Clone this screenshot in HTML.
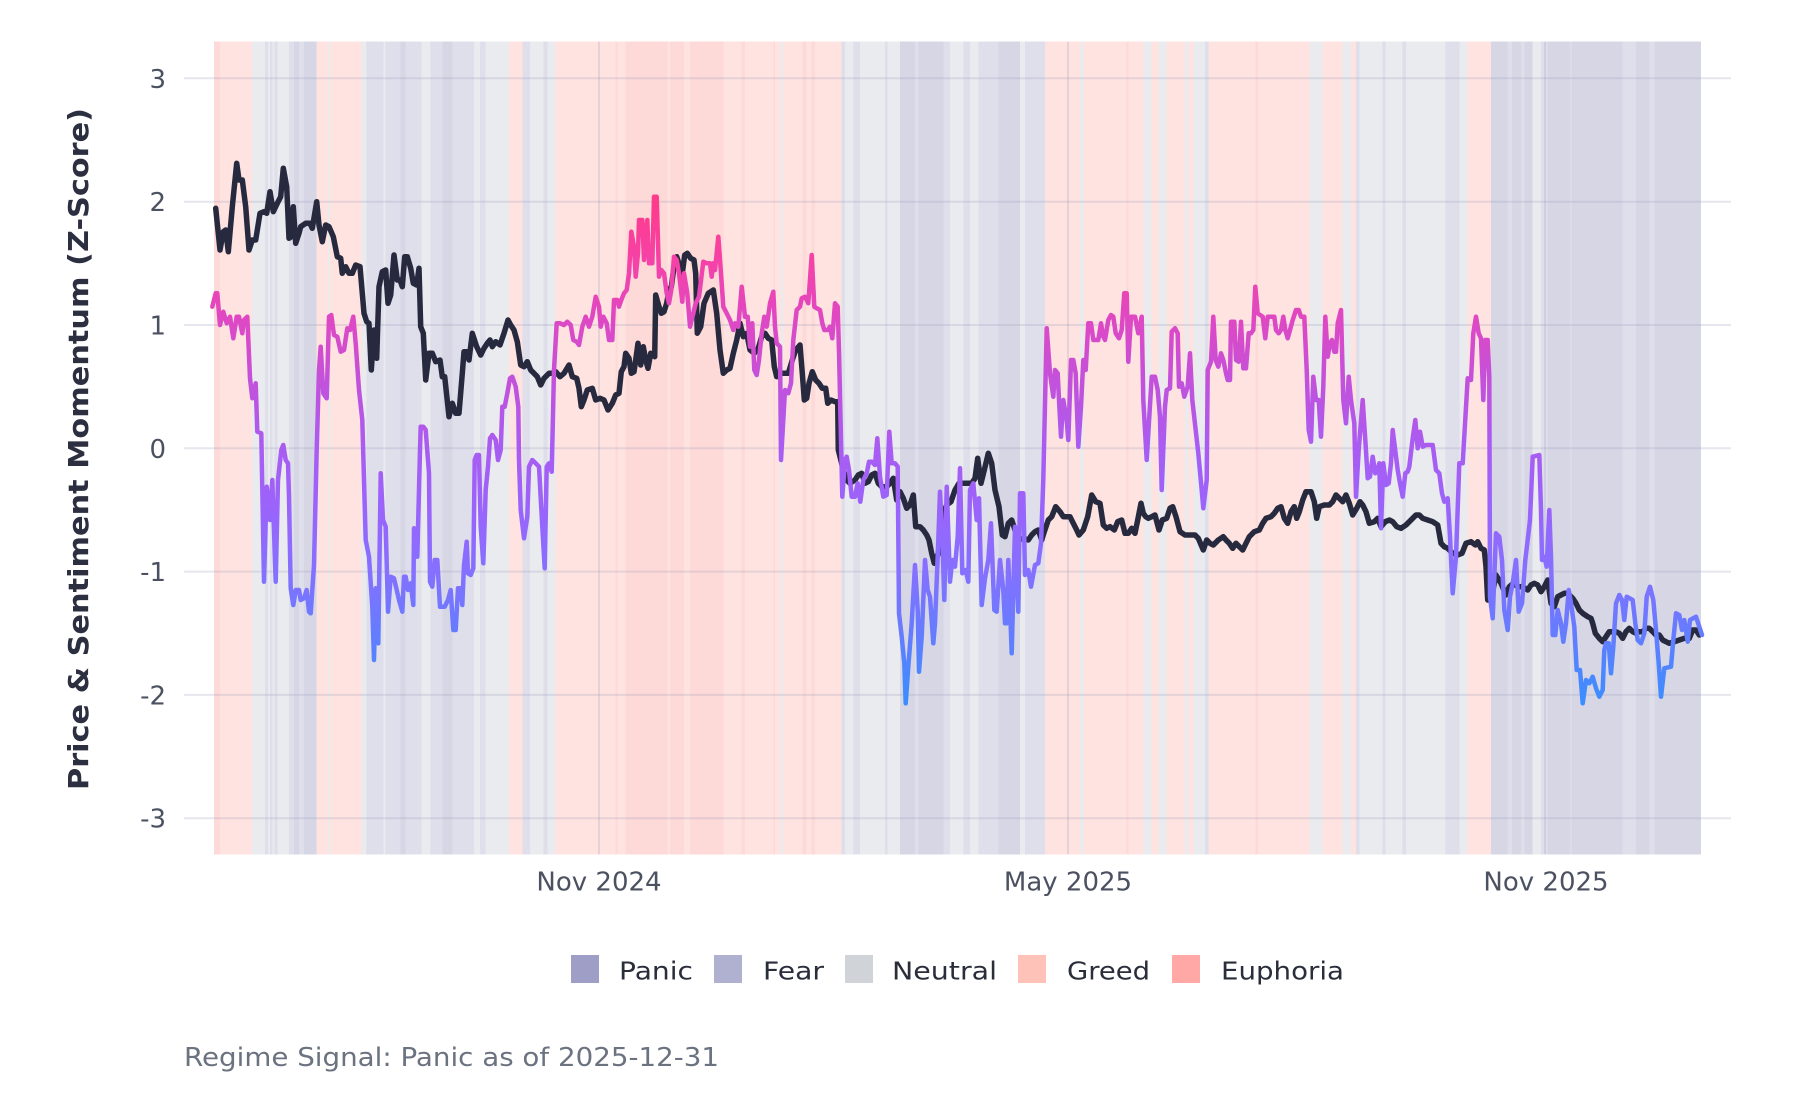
<!DOCTYPE html>
<html>
<head>
<meta charset="utf-8">
<style>
html,body{margin:0;padding:0;background:#fff;}
svg{display:block;}
text{font-family:"DejaVu Sans","Liberation Sans",sans-serif;}
</style>
</head>
<body>
<svg width="1800" height="1100" viewBox="0 0 1800 1100" xmlns="http://www.w3.org/2000/svg">
<defs>
<linearGradient id="sg" gradientUnits="userSpaceOnUse" x1="0" y1="160" x2="0" y2="710">
<stop offset="0" stop-color="#ff3b86"/>
<stop offset="0.075" stop-color="#ff3b8b"/>
<stop offset="0.187" stop-color="#f542a8"/>
<stop offset="0.3" stop-color="#dc49c6"/>
<stop offset="0.412" stop-color="#c052dd"/>
<stop offset="0.524" stop-color="#a95cf2"/>
<stop offset="0.636" stop-color="#9a64fb"/>
<stop offset="0.748" stop-color="#8570ff"/>
<stop offset="0.86" stop-color="#657cff"/>
<stop offset="0.972" stop-color="#3f8cff"/>
<stop offset="1" stop-color="#3a8eff"/>
</linearGradient>
</defs>
<rect width="1800" height="1100" fill="#fff"/>
<g id="bands" shape-rendering="crispEdges">
<rect x="214" y="41.7" width="6" height="812.6" fill="#fdd9d8"/>
<rect x="220" y="41.7" width="32" height="812.6" fill="#fee3e0"/>
<rect x="252" y="41.7" width="13" height="812.6" fill="#eaebee"/>
<rect x="265" y="41.7" width="3" height="812.6" fill="#dfdfeb"/>
<rect x="268" y="41.7" width="2" height="812.6" fill="#eaebee"/>
<rect x="270" y="41.7" width="2.3" height="812.6" fill="#dfdfeb"/>
<rect x="272.3" y="41.7" width="2.4" height="812.6" fill="#eaebee"/>
<rect x="274.7" y="41.7" width="2.6" height="812.6" fill="#dfdfeb"/>
<rect x="277.3" y="41.7" width="11.7" height="812.6" fill="#eaebee"/>
<rect x="289" y="41.7" width="5" height="812.6" fill="#dfdfeb"/>
<rect x="294" y="41.7" width="5" height="812.6" fill="#d6d6e5"/>
<rect x="299" y="41.7" width="5" height="812.6" fill="#dfdfeb"/>
<rect x="304" y="41.7" width="12.7" height="812.6" fill="#d6d6e5"/>
<rect x="316.7" y="41.7" width="11.3" height="812.6" fill="#fee3e0"/>
<rect x="328" y="41.7" width="2" height="812.6" fill="#eaebee"/>
<rect x="330" y="41.7" width="31.3" height="812.6" fill="#fee3e0"/>
<rect x="361.3" y="41.7" width="5.4" height="812.6" fill="#eaebee"/>
<rect x="366.7" y="41.7" width="16.6" height="812.6" fill="#dfdfeb"/>
<rect x="383.3" y="41.7" width="2.4" height="812.6" fill="#eaebee"/>
<rect x="385.7" y="41.7" width="15" height="812.6" fill="#dfdfeb"/>
<rect x="400.7" y="41.7" width="5" height="812.6" fill="#d6d6e5"/>
<rect x="405.7" y="41.7" width="15.6" height="812.6" fill="#dfdfeb"/>
<rect x="421.3" y="41.7" width="9.4" height="812.6" fill="#eaebee"/>
<rect x="430.7" y="41.7" width="11.6" height="812.6" fill="#dfdfeb"/>
<rect x="442.3" y="41.7" width="10" height="812.6" fill="#d6d6e5"/>
<rect x="452.3" y="41.7" width="21.7" height="812.6" fill="#dfdfeb"/>
<rect x="474" y="41.7" width="6" height="812.6" fill="#eaebee"/>
<rect x="480" y="41.7" width="5.7" height="812.6" fill="#dfdfeb"/>
<rect x="485.7" y="41.7" width="23.3" height="812.6" fill="#eaebee"/>
<rect x="509" y="41.7" width="13.3" height="812.6" fill="#fee3e0"/>
<rect x="522.3" y="41.7" width="7.7" height="812.6" fill="#dfdfeb"/>
<rect x="530" y="41.7" width="13.3" height="812.6" fill="#eaebee"/>
<rect x="543.3" y="41.7" width="4" height="812.6" fill="#dfdfeb"/>
<rect x="547.3" y="41.7" width="8.4" height="812.6" fill="#eaebee"/>
<rect x="555.7" y="41.7" width="60" height="812.6" fill="#fee3e0"/>
<rect x="615.7" y="41.7" width="1.6" height="812.6" fill="#fdd9d8"/>
<rect x="617.3" y="41.7" width="8.4" height="812.6" fill="#fee3e0"/>
<rect x="625.7" y="41.7" width="41.6" height="812.6" fill="#fdd9d8"/>
<rect x="667.3" y="41.7" width="2.7" height="812.6" fill="#fee3e0"/>
<rect x="670" y="41.7" width="14" height="812.6" fill="#fdd9d8"/>
<rect x="684" y="41.7" width="6" height="812.6" fill="#fee3e0"/>
<rect x="690" y="41.7" width="33.3" height="812.6" fill="#fdd9d8"/>
<rect x="723.3" y="41.7" width="18.4" height="812.6" fill="#fee3e0"/>
<rect x="741.7" y="41.7" width="3.3" height="812.6" fill="#fdd9d8"/>
<rect x="745" y="41.7" width="28.3" height="812.6" fill="#fee3e0"/>
<rect x="773.3" y="41.7" width="1.7" height="812.6" fill="#fdd9d8"/>
<rect x="775" y="41.7" width="6" height="812.6" fill="#fee3e0"/>
<rect x="781" y="41.7" width="2.3" height="812.6" fill="#eaebee"/>
<rect x="783.3" y="41.7" width="19" height="812.6" fill="#fee3e0"/>
<rect x="802.3" y="41.7" width="4.4" height="812.6" fill="#fdd9d8"/>
<rect x="806.7" y="41.7" width="5" height="812.6" fill="#fee3e0"/>
<rect x="811.7" y="41.7" width="3.3" height="812.6" fill="#fdd9d8"/>
<rect x="815" y="41.7" width="26.7" height="812.6" fill="#fee3e0"/>
<rect x="841.7" y="41.7" width="3.3" height="812.6" fill="#dfdfeb"/>
<rect x="845" y="41.7" width="8.3" height="812.6" fill="#eaebee"/>
<rect x="853.3" y="41.7" width="6.7" height="812.6" fill="#dfdfeb"/>
<rect x="860" y="41.7" width="25" height="812.6" fill="#eaebee"/>
<rect x="885" y="41.7" width="2.7" height="812.6" fill="#dfdfeb"/>
<rect x="887.7" y="41.7" width="12.3" height="812.6" fill="#eaebee"/>
<rect x="900" y="41.7" width="15" height="812.6" fill="#d6d6e5"/>
<rect x="915" y="41.7" width="3.3" height="812.6" fill="#dfdfeb"/>
<rect x="918.3" y="41.7" width="25" height="812.6" fill="#d6d6e5"/>
<rect x="943.3" y="41.7" width="6.7" height="812.6" fill="#dfdfeb"/>
<rect x="950" y="41.7" width="13.3" height="812.6" fill="#eaebee"/>
<rect x="963.3" y="41.7" width="6.7" height="812.6" fill="#dfdfeb"/>
<rect x="970" y="41.7" width="8.3" height="812.6" fill="#eaebee"/>
<rect x="978.3" y="41.7" width="20" height="812.6" fill="#dfdfeb"/>
<rect x="998.3" y="41.7" width="21.7" height="812.6" fill="#d6d6e5"/>
<rect x="1020" y="41.7" width="5" height="812.6" fill="#eaebee"/>
<rect x="1025" y="41.7" width="20" height="812.6" fill="#dfdfeb"/>
<rect x="1045" y="41.7" width="35" height="812.6" fill="#fee3e0"/>
<rect x="1080" y="41.7" width="3.3" height="812.6" fill="#eaebee"/>
<rect x="1083.3" y="41.7" width="43.4" height="812.6" fill="#fee3e0"/>
<rect x="1126.7" y="41.7" width="1.6" height="812.6" fill="#fdd9d8"/>
<rect x="1128.3" y="41.7" width="15" height="812.6" fill="#fee3e0"/>
<rect x="1143.3" y="41.7" width="8.4" height="812.6" fill="#eaebee"/>
<rect x="1151.7" y="41.7" width="6.6" height="812.6" fill="#fee3e0"/>
<rect x="1158.3" y="41.7" width="8.4" height="812.6" fill="#eaebee"/>
<rect x="1166.7" y="41.7" width="18.3" height="812.6" fill="#fee3e0"/>
<rect x="1185" y="41.7" width="3.3" height="812.6" fill="#eaebee"/>
<rect x="1188.3" y="41.7" width="5" height="812.6" fill="#fee3e0"/>
<rect x="1193.3" y="41.7" width="11.7" height="812.6" fill="#eaebee"/>
<rect x="1205" y="41.7" width="3.3" height="812.6" fill="#dfdfeb"/>
<rect x="1208.3" y="41.7" width="47" height="812.6" fill="#fee3e0"/>
<rect x="1255.3" y="41.7" width="2.7" height="812.6" fill="#fdd9d8"/>
<rect x="1258" y="41.7" width="51.3" height="812.6" fill="#fee3e0"/>
<rect x="1309.3" y="41.7" width="13.4" height="812.6" fill="#eaebee"/>
<rect x="1322.7" y="41.7" width="20" height="812.6" fill="#fee3e0"/>
<rect x="1342.7" y="41.7" width="8.3" height="812.6" fill="#eaebee"/>
<rect x="1351" y="41.7" width="5" height="812.6" fill="#fee3e0"/>
<rect x="1356" y="41.7" width="3.3" height="812.6" fill="#dfdfeb"/>
<rect x="1359.3" y="41.7" width="23.4" height="812.6" fill="#eaebee"/>
<rect x="1382.7" y="41.7" width="2.6" height="812.6" fill="#dfdfeb"/>
<rect x="1385.3" y="41.7" width="17.4" height="812.6" fill="#eaebee"/>
<rect x="1402.7" y="41.7" width="3.3" height="812.6" fill="#dfdfeb"/>
<rect x="1406" y="41.7" width="39.3" height="812.6" fill="#eaebee"/>
<rect x="1445.3" y="41.7" width="14" height="812.6" fill="#dfdfeb"/>
<rect x="1459.3" y="41.7" width="8.4" height="812.6" fill="#eaebee"/>
<rect x="1467.7" y="41.7" width="23.3" height="812.6" fill="#fee3e0"/>
<rect x="1491" y="41.7" width="16.7" height="812.6" fill="#d6d6e5"/>
<rect x="1507.7" y="41.7" width="4.3" height="812.6" fill="#dfdfeb"/>
<rect x="1512" y="41.7" width="9" height="812.6" fill="#d6d6e5"/>
<rect x="1521" y="41.7" width="3.3" height="812.6" fill="#dfdfeb"/>
<rect x="1524.3" y="41.7" width="8.4" height="812.6" fill="#d6d6e5"/>
<rect x="1532.7" y="41.7" width="8.3" height="812.6" fill="#eaebee"/>
<rect x="1541" y="41.7" width="6.7" height="812.6" fill="#dfdfeb"/>
<rect x="1547.7" y="41.7" width="22.3" height="812.6" fill="#d6d6e5"/>
<rect x="1570" y="41.7" width="1.7" height="812.6" fill="#dfdfeb"/>
<rect x="1571.7" y="41.7" width="51" height="812.6" fill="#d6d6e5"/>
<rect x="1622.7" y="41.7" width="13.3" height="812.6" fill="#dfdfeb"/>
<rect x="1636" y="41.7" width="13.3" height="812.6" fill="#d6d6e5"/>
<rect x="1649.3" y="41.7" width="5" height="812.6" fill="#dfdfeb"/>
<rect x="1654.3" y="41.7" width="46.7" height="812.6" fill="#d6d6e5"/>
</g>
<g id="grid" stroke="rgb(150,156,185)" stroke-opacity="0.24" stroke-width="2" fill="none">
<line x1="184" y1="78.3" x2="1731" y2="78.3"/>
<line x1="184" y1="201.7" x2="1731" y2="201.7"/>
<line x1="184" y1="325" x2="1731" y2="325"/>
<line x1="184" y1="448.3" x2="1731" y2="448.3"/>
<line x1="184" y1="571.6" x2="1731" y2="571.6"/>
<line x1="184" y1="694.9" x2="1731" y2="694.9"/>
<line x1="184" y1="818.2" x2="1731" y2="818.2"/>
<line x1="599" y1="41.7" x2="599" y2="854.3"/>
<line x1="1068" y1="41.7" x2="1068" y2="854.3"/>
<line x1="1545" y1="41.7" x2="1545" y2="854.3"/>
</g>
<polyline fill="none" stroke="#272a3f" stroke-width="5.5" stroke-linejoin="round" stroke-linecap="round" points="215.7,208.3 220,250 223.3,231.7 225.7,230 228.3,251.7 232.3,206.7 236.7,163.3 239,180 242.3,180 245.7,206.7 249,250 252.3,240 255.7,240 260,213.3 264,211.7 266.7,213.3 270,191.7 273.3,211.7 277.3,203.3 280.7,196.7 283.3,168.3 286.7,186.7 289,238.3 291.3,236.7 293.3,206.7 295.7,243.3 299,233.3 300.7,226.7 305.7,223.3 310,223.3 312.3,228.3 316.7,201.7 319,225 322.3,241.7 325.7,225 329,226.7 333.3,236.7 337.3,256.7 340.7,258.3 342.3,273.3 345.7,266.7 349,273.3 352.3,273.3 355.7,265 360,266.7 362.3,293.3 364,313.3 366.7,321.7 369,323.3 371.3,370 374,330 376.7,358.3 379,286.7 382.3,271.7 385.7,270 388,303.3 390.7,295 394,255 397.3,280 400,280 402.3,286.7 404.7,256.7 407.3,256.7 410.7,268.3 413.3,283.3 416.7,285 419,268.3 420.7,326.7 423.3,333.3 425.7,380 429,353.3 432.3,353.3 435.7,361.7 440,360 442.3,376.7 444.7,376.7 449,416.7 452.3,403.3 455.7,413.3 459,413.3 462.3,373.3 464,351.7 466.7,351.7 469,360 472.3,333.3 476.7,346.7 480.7,355 484,348.3 487.3,343.3 490,340 492.3,346.7 495.7,341.7 500,345 504,333.3 508,320 510.7,325 514,330 517.3,341.7 520.7,365 524,366.7 527.3,361.7 530.7,370 534,373.3 537.3,376.7 540.7,385 544,378.3 549,373.3 552.3,373.3 555.7,371.7 560,376.7 564,373.3 569,365 572.3,376.7 576.7,378.3 579,388.3 581.3,406.7 584,400 587.3,390 592.3,388.3 595.7,400 600,398.3 604,400 608,410 612.3,403.3 615.7,395 619,393.3 621.3,371.7 624,366.7 625.7,353.3 629,358.3 631.3,373.3 634,371.7 635.7,360 638,343.3 640.7,365 643.3,346.7 645.7,360 648,368.3 650.7,353.3 654.7,356.7 655.7,295 659,306.7 661.3,313.3 664,311.7 666.7,303.3 669,290 671.3,286.7 674,266.7 676.7,256.7 680,266.7 682.3,273.3 684.7,255 687.3,253.3 690.7,258.3 694,260 695.7,273.3 697.3,333.3 700.7,326.7 704,303.3 708.3,293.3 713.3,290 716.7,313.3 720,350 723.3,373.3 726.7,370 730,368.3 733.3,353.3 736.7,340 740,323.3 743.3,336.7 746.7,333.3 750,350 754.3,353.3 758.3,348.3 761.7,336.7 765,333.3 768.3,338.3 771.7,340 774.3,366.7 776.7,376.7 780,373.3 785,373.3 788.3,373.3 792.3,360 795.7,350 800,345 802.3,373.3 804.3,400 806.7,398.3 809,383.3 812.3,371.7 815.7,380 819,383.3 822.3,388.3 825.7,388.3 827.7,403.3 831,400 835,401.7 837.7,401.7 838.3,450 840,456.7 843.3,470 846.7,480 850,483.3 855,480 858.3,475 861.7,473.3 865,483.3 868.3,481.7 871.7,475 875,473.3 878.3,483.3 881.7,486.7 886.7,486.7 890,483.3 893.3,478.3 896.7,500 900,491.7 903.3,498.3 906.7,508.3 910,505 913.3,495 915.7,526.7 920,526.7 923.3,530 926.7,535 929,540 931.7,553.3 934.3,563.3 938.3,553.3 942.3,516.7 946.7,505 951,501.7 955,490 959,483.3 963.3,483.3 968.3,483.3 971.7,483.3 975,478.3 977.7,458.3 981,483.3 984.3,470 988.3,453.3 991.7,463.3 995,490 999,506.7 1002.3,535 1005,536.7 1008.3,523.3 1011.7,520 1015,530 1019,540 1023.3,538.3 1028.3,540 1031.7,535 1035,531.7 1038.3,530 1041.7,540 1044.3,531.7 1048.3,520 1051.7,516.7 1055.7,506.7 1060,511.7 1063.3,516.7 1066.7,516.7 1070,516.7 1073.3,523.3 1076.7,530 1079,535 1083.3,530 1087.7,516.7 1091.7,495 1095.7,501.7 1100,503.3 1103.3,525 1106.7,528.3 1110,526.7 1114.3,530 1117.7,521.7 1121.7,520 1125,533.3 1128.3,533.3 1131.7,528.3 1135,533.3 1137.7,520 1141,503.3 1143.3,513.3 1145.7,516.7 1148.3,518.3 1151.7,516.7 1155,515 1159,530 1162.3,520 1166.7,518.3 1170,508.3 1172.7,506.7 1176,516.7 1180,531.7 1185,535 1190,535 1195,535 1198.3,538.3 1203.3,550 1206.7,540 1210,543.3 1213.3,545 1218.3,540 1223.3,536.7 1226,540 1229.3,543.3 1232.7,548.3 1236,543.3 1239.3,546.7 1242.7,550 1246,543.3 1249.3,536.7 1254.3,531.7 1259.3,530 1262.7,523.3 1266,518.3 1271,516.7 1274.3,513.3 1277.7,508.3 1281,506.7 1284.3,518.3 1287.7,523.3 1291,511.7 1294.3,506.7 1296.7,518.3 1299.3,511.7 1302.7,500 1306,491.7 1311,491.7 1314.3,501.7 1316.7,518.3 1319.3,506.7 1324.3,505 1329.3,505 1332.7,501.7 1336,495 1339.3,498.3 1342.7,501.7 1346,495 1349.3,503.3 1352.7,515 1356.7,508.3 1360,501.7 1362.7,505 1366,511.7 1369.3,523.3 1374.3,521.7 1377.7,518.3 1381,526.7 1385.3,521.7 1389.3,520 1392.7,521.7 1396.7,526.7 1401,528.3 1406,525 1411,520 1416,515 1419.3,515 1422.7,518.3 1427.7,520 1432.7,521.7 1437.7,525 1441,543.3 1444.3,546.7 1447.7,548.3 1452.7,553.3 1457.7,555 1462,553.3 1466,543.3 1471,541.7 1475.3,545 1477.7,541.7 1481,548.3 1484.3,550 1486,566.7 1487.7,600 1491,600 1496,575 1501,583.3 1506,595 1509.3,586.7 1513.3,583.3 1517.7,586.7 1522.7,586.7 1527.7,590 1531,585 1534.3,583.3 1537.7,585 1541,591.7 1544.3,586.7 1547.7,580 1551,603.3 1554.3,606.7 1557.7,596.7 1561,595 1564.3,593.3 1567.7,593.3 1572.7,598.3 1576,603.3 1579.3,610 1582.7,613.3 1587.7,616.7 1591,618.3 1592.7,623.3 1595.3,633.3 1599.3,638.3 1602.7,641.7 1606,636.7 1609.3,631.7 1612.7,631.7 1616,631.7 1619.3,633.3 1622.7,638.3 1626,631.7 1629.3,628.3 1632.7,631.7 1636,633.3 1639.3,631.7 1642.7,631.7 1646,628.3 1649.3,628.3 1652.7,631.7 1656,635 1659.3,635 1662.7,640 1666,641.7 1669.3,643.3 1674.3,641.7 1679.3,640 1684.3,638.3 1689.3,638.3 1692.7,630 1696,630 1699.3,635"/>
<polyline fill="none" stroke="url(#sg)" stroke-width="4.5" stroke-linejoin="round" stroke-linecap="round" points="212.3,306.7 215.7,293.3 217.3,293.3 220,325 223.3,311.7 226.7,323.3 230,316.7 233.3,338.3 236.7,316.7 239,316.7 242.3,333.3 244,320 247.3,316.7 250,378.3 252.3,398.3 255.7,383.3 257.3,431.7 261.3,433.3 264,581.7 266.7,486.7 270,520 272.3,480 275.7,581.7 278,480 281.3,450 283.3,445 285.7,460 288,463.3 289,496.7 290.7,588.3 293.3,605 295.7,590 299,590 300.7,600 304,598.3 306.7,590 309,611.7 310.7,613.3 314,565 316.7,450 319,370 320.7,346.7 323.3,393.3 326.7,398.3 329,316.7 331.3,315 334,335 337.3,336.7 340.7,351.7 344,350 347.3,328.3 350,330 353.3,316.7 355.7,343.3 359,390 362.3,420 365.7,540 369,556.7 372.3,606.7 374,660 375.7,588.3 378.3,643.3 380.7,473.3 383,520 385.7,526.7 388,611.7 390.7,576.7 394,578.3 396.7,590 399,600 402.3,611.7 404,576.7 405.7,576.7 408,590 410.7,583.3 413.3,605 414,528.3 416.7,530 417.3,556.7 420,450 420.7,426.7 423.3,426.7 425.7,430 429,473.3 430,581.7 432.3,586.7 434.7,560 437.3,560 440,606.7 444.7,606.7 448,600 450.7,590 453.3,630 455.7,630 458,588.3 460.7,588.3 462.3,605 464,565 466.7,541.7 468,573.3 470.7,575 473.3,568.3 474.7,460 476.7,455 479,455 480.7,526.7 483.3,563.3 485.7,490 488,466.7 490,438.3 492.3,435 495.7,440 498,460 500.7,450 502.3,406.7 504.7,406.7 507.3,393.3 510,378.3 512.3,376.7 515.7,386.7 518.3,406.7 519,460 520.7,510 524,538.3 527.3,516.7 529,466.7 532.3,460 535.7,463.3 539,466.7 542.3,526.7 544.7,568.3 546.7,466.7 549,463.3 551.7,471.7 554,370 556.7,323.3 560,323.3 564,325 567.3,321.7 570.7,325 573.3,340 576.7,341.7 579,345 582.3,326.7 585.7,316.7 589,326.7 592.3,316.7 595.7,296.7 599,306.7 600.7,326.7 603.3,316.7 606.7,323.3 609,340 612.3,340 614,300 617.3,300 619,306.7 621.3,300 624,293.3 626.7,290 629,273.3 631.3,231.7 634,246.7 635.7,276.7 638,253.3 639,220 642.3,220 644,260 647.3,220 649,263.3 652.3,263.3 654,196.7 656.7,196.7 659,276.7 661.3,270 664,273.3 666.7,293.3 669,303.3 671.3,290 674,256.7 676.7,260 679,273.3 682.3,301.7 684,273.3 687.3,293.3 690,326.7 693.3,313.3 695.7,303.3 699,296.7 703.3,261.7 706.7,263.3 710,263.3 711.7,276.7 713.3,263.3 715,270 718.3,236.7 721,273.3 723.3,306.7 726.7,313.3 730,320 733.3,330 735,323.3 738.3,326.7 741.7,286.7 745,316.7 747.7,316.7 750,346.7 752.3,323.3 754.3,370 756.7,375 759,360 761.7,333.3 764.3,316.7 766.7,326.7 770,303.3 773.3,291.7 775,326.7 776.7,343.3 780,346.7 781,460 785,390 788.3,393.3 791,383.3 793.3,340 796.7,310 800,306.7 801.7,298.3 805,296.7 808.3,303.3 811.7,255 814.3,306.7 816.7,308.3 820,310 822.3,323.3 824.3,330 827.7,330 830,326.7 832.3,338.3 835,303.3 837.7,306.7 839,351.7 842.3,496.7 845,460 846.7,456.7 849,470 851.7,496.7 855,496.7 857.7,483.3 860.3,501.7 863.3,480 866.7,473.3 869,461.7 871.7,461.7 875,465 877.3,438.3 880,476.7 883.3,496.7 886.7,495 889.3,431.7 891.7,463.3 895,463.3 897.7,466.7 899,613.3 901.7,636.7 904.3,663.3 905.7,703.3 908.3,666.7 911.7,623.3 915,565 917.7,610 919,671.7 921.7,636.7 925,560 927.7,590 930,596.7 933.3,643.3 935,623.3 937.7,556.7 940,491.7 942.3,536.7 944.3,600 946.7,486.7 950,581.7 952.3,560 955,566.7 957.7,536.7 960,468.3 962.3,573.3 965.7,570 968.3,581.7 970,490 973.3,483.3 976.7,520 979,498.3 981.7,605 985,578.3 988.3,560 991,523.3 994.3,610 996.7,611.7 1000,560 1003.3,590 1005,623.3 1006.7,623.3 1008.3,560 1011.7,653.3 1015,526.7 1018.3,611.7 1020,493.3 1023.3,493.3 1025,575 1028.3,570 1031,586.7 1035,565 1038.3,563.3 1041,543.3 1043.3,480 1046.7,328.3 1050,373.3 1053.3,396.7 1055,370 1057.7,373.3 1059,400 1061,436.7 1063.3,400 1066.7,420 1068.3,440 1071,360 1073.3,360 1075.7,373.3 1078.3,446.7 1081,406.7 1083.3,360 1085.7,370 1088.3,323.3 1091,323.3 1093.3,340 1098.3,340 1101,323.3 1103.3,336.7 1105,340 1108.3,320 1111,315 1113.3,316.7 1115.7,333.3 1119,338.3 1121.7,330 1124.3,293.3 1126.7,293.3 1128.3,361.7 1131,316.7 1135,316.7 1138.3,333.3 1141.7,316.7 1143.3,400 1146.7,460 1151.7,376.7 1155,376.7 1157.7,390 1160,416.7 1161.7,490 1165,406.7 1166.7,390 1170,388.3 1171.7,331.7 1175,328.3 1177.7,333.3 1179,386.7 1181.7,383.3 1184.3,396.7 1187.7,386.7 1190,353.3 1192.3,400 1198.3,453.3 1201.7,490 1203.3,508.3 1206.7,480 1207.7,370 1211,361.7 1213.3,316.7 1215.7,360 1218.3,366.7 1221,353.3 1223.3,360 1226,373.3 1227.7,380 1230,380 1231,321.7 1234.3,321.7 1236,360 1238.7,361.7 1241,321.7 1243.3,368.3 1246,368.3 1248.7,333.3 1251,333.3 1253.3,330 1255.3,286.7 1257.7,313.3 1262.7,316.7 1265.3,338.3 1267.7,316.7 1274.3,316.7 1276,330 1278.7,333.3 1281,330 1283.3,316.7 1285.3,330 1287.7,338.3 1290,330 1292.7,320 1296,310 1298.7,310 1301,316.7 1304.3,316.7 1306.7,370 1308.7,430 1311,441.7 1313.3,376.7 1316,400 1318.7,400 1321,436.7 1323.3,386.7 1325.3,316.7 1327.7,356.7 1330,343.3 1332,340 1334.3,351.7 1336,351.7 1337.7,323.3 1341,310 1343.3,400 1346,423.3 1348.7,376.7 1351,400 1354.3,423.3 1356,496.7 1358.7,450 1362.7,400 1365.3,440 1367.7,478.3 1370,476.7 1372.7,456.7 1375.3,473.3 1377.7,470 1379.3,463.3 1381,528.3 1383.3,463.3 1386,485 1388.7,483.3 1391,463.3 1392.7,430 1397.7,470 1400,483.3 1402.7,496.7 1405.3,473.3 1407.7,471.7 1409.3,466.7 1412.7,438.3 1415.3,420 1417.7,448.3 1420,431.7 1422.7,446.7 1426,445 1432.7,445 1436,470 1439.3,473.3 1442,493.3 1444.3,501.7 1447.7,498.3 1450,536.7 1452.7,593.3 1456,556.7 1459.3,463.3 1462.7,463.3 1467.7,378.3 1471,380 1473.3,333.3 1476,316.7 1478.7,333.3 1481,338.3 1483.3,400 1485.3,340 1487.7,340 1489.3,376.7 1490,596.7 1492.7,618.3 1496,533.3 1499.3,536.7 1502,560 1504.3,610 1507.7,630 1510,596.7 1512.7,583.3 1516,560 1518.7,611.7 1522,603.3 1525.3,560 1527.7,540 1530,520 1532.7,456.7 1539.3,455 1541,510 1542,560 1544.3,556.7 1546.7,566.7 1549.3,510 1551,556.7 1552.7,635 1555.3,635 1557.7,610 1561,623.3 1563.3,641.7 1566,623.3 1568.7,590 1571,603.3 1574.3,626.7 1576.7,670 1580,670 1582.7,703.3 1586,680 1589.3,683.3 1592.7,676.7 1596,688.3 1599.3,696.7 1602.7,690 1604.3,650 1606,643.3 1608.7,643.3 1611,673.3 1613.3,646.7 1616,603.3 1619.3,595 1622,600 1624.3,620 1626.7,596.7 1632.7,600 1635.3,623.3 1637.7,640 1641,643.3 1644.3,633.3 1646.7,596.7 1650,586.7 1653.3,600 1656,630 1658.7,663.3 1661,696.7 1664.3,668.3 1671,666.7 1673.3,640 1676,613.3 1679.3,615 1682,630 1684.3,620 1687.7,641.7 1690,620 1696,616.7 1698.7,625 1702,635"/>
<g font-size="26" fill="#4b5160" text-anchor="end">
<text x="166" y="87.8">3</text>
<text x="166" y="211.2">2</text>
<text x="166" y="334.5">1</text>
<text x="166" y="457.8">0</text>
<text x="166" y="581.1">-1</text>
<text x="166" y="704.4">-2</text>
<text x="166" y="827.7">-3</text>
</g>
<g font-size="26" fill="#4b5160" text-anchor="middle">
<text x="599" y="890.7">Nov 2024</text>
<text x="1068" y="890.7">May 2025</text>
<text x="1546" y="890.7">Nov 2025</text>
</g>
<text transform="translate(88,449) rotate(-90)" text-anchor="middle" font-size="28" font-weight="bold" fill="#2b2f40" textLength="682" lengthAdjust="spacingAndGlyphs">Price &amp; Sentiment Momentum (Z-Score)</text>
<g>
<rect x="571" y="955" width="28" height="28" fill="#9e9ec6"/>
<rect x="714" y="955" width="28" height="28" fill="#b0b0d1"/>
<rect x="845" y="955" width="28" height="28" fill="#d0d3d7"/>
<rect x="1018" y="955" width="28" height="28" fill="#ffc2b8"/>
<rect x="1172" y="955" width="28" height="28" fill="#ffa8a5"/>
</g>
<g font-size="25" fill="#2a2d3a">
<text x="619" y="979.5" textLength="74" lengthAdjust="spacingAndGlyphs">Panic</text>
<text x="763" y="979.5" textLength="61" lengthAdjust="spacingAndGlyphs">Fear</text>
<text x="892" y="979.5" textLength="105" lengthAdjust="spacingAndGlyphs">Neutral</text>
<text x="1067" y="979.5" textLength="83" lengthAdjust="spacingAndGlyphs">Greed</text>
<text x="1221" y="979.5" textLength="123" lengthAdjust="spacingAndGlyphs">Euphoria</text>
</g>
<text x="184" y="1066" font-size="26" fill="#6b7280" textLength="535" lengthAdjust="spacingAndGlyphs">Regime Signal: Panic as of 2025-12-31</text>
</svg>
</body>
</html>
